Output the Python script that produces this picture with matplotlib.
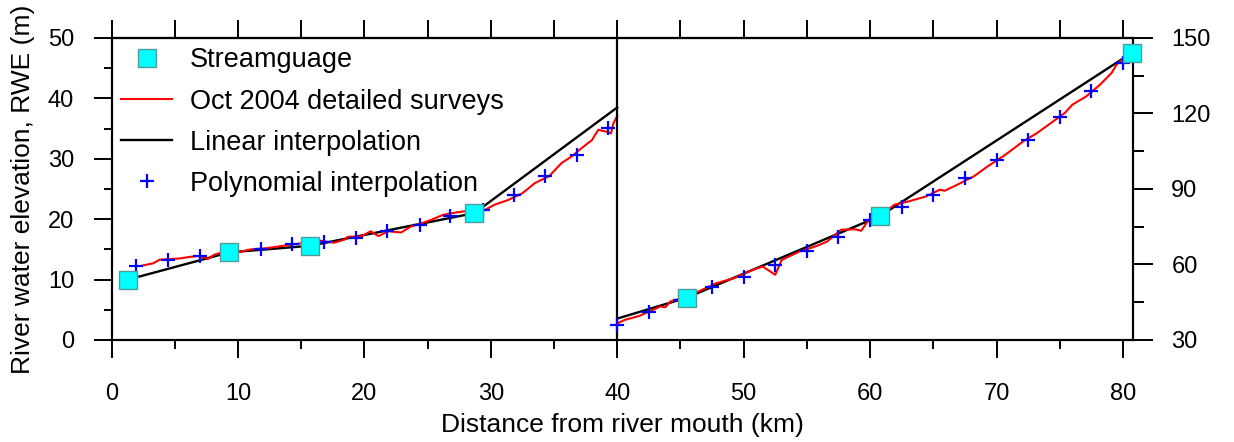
import matplotlib
matplotlib.use('Agg')
import matplotlib.pyplot as plt
from matplotlib.ticker import MultipleLocator
import numpy as np

plt.rcParams['font.family'] = ['Liberation Sans', 'DejaVu Sans']

# stream gauges (km from mouth, river water elevation m)
gauge_km = [1.3, 9.3, 15.7, 28.7, 45.5, 60.8, 80.7]
gauge_m = [10.0, 14.5, 15.6, 21.0, 46.8, 79.3, 144.1]

# linear interpolation between gauges
lin_km = [2.2, 9.3, 15.7, 28.7, 40.0, 45.5, 60.8, 80.7]
lin_m = [10.5, 14.5, 15.6, 21.0, 38.5, 46.8, 79.3, 144.1]

# polynomial interpolation points
poly_km = [1.9, 4.5, 7.0, 9.4, 11.8, 14.3, 16.8, 19.3, 21.8, 24.4, 26.8, 29.4,
           31.8, 34.3, 36.8, 39.3, 40.0, 42.5, 45.0, 47.5, 50.0, 52.5, 55.0,
           57.5, 60.0, 62.5, 65.0, 67.5, 70.0, 72.5, 75.0, 77.5, 80.0]
poly_m = [12.2, 13.3, 13.9, 14.6, 15.0, 15.9, 16.3, 16.9, 18.0, 19.1, 20.6, 21.5,
          24.0, 27.2, 30.7, 35.1, 36.0, 41.3, 46.0, 51.2, 55.2, 59.8, 65.5,
          70.8, 77.5, 82.8, 87.7, 94.3, 101.6, 109.6, 118.6, 128.8, 140.1]

# Oct 2004 detailed surveys, lower reach (0-40 km)
survey_km_low = [2.4, 3.3, 3.8, 4.6, 5.4, 6.0, 6.8, 7.3, 7.6, 8.1, 8.6, 10.2,
                 11.0, 12.3, 13.9, 15.0, 16.3, 17.6, 18.4, 18.7, 19.7, 20.5,
                 21.1, 21.9, 22.9, 23.7, 24.5, 25.3, 26.2, 27.2, 27.9, 28.7,
                 29.5, 30.3, 31.4, 32.5, 33.5, 34.6, 35.6, 36.4, 37.2, 38.0,
                 38.5, 39.1, 39.5, 39.7, 40.0]
survey_m_low = [12.3, 12.7, 13.3, 13.4, 13.5, 13.7, 13.9, 13.7, 13.4, 14.1, 14.4, 14.6,
                15.0, 15.2, 15.7, 16.0, 16.5, 16.1, 16.6, 17.1, 17.1, 18.0,
                17.2, 18.0, 17.8, 18.8, 19.3, 19.9, 20.7, 21.1, 21.3, 21.4,
                21.5, 22.4, 23.2, 24.3, 26.0, 27.1, 29.3, 30.4, 31.8, 33.1,
                34.8, 34.5, 34.2, 35.9, 37.1]

# Oct 2004 detailed surveys, upper reach (40-80 km)
survey_km_up = [40.0, 40.6, 41.7, 42.8, 43.4, 43.8, 44.2, 45.5, 46.4, 47.8, 49.2,
                50.6, 51.5, 52.5, 53.0, 54.4, 55.8, 56.6, 57.7, 58.8, 59.3, 59.8,
                60.8, 61.9, 63.0, 64.4, 65.5, 65.9, 66.9, 68.2, 69.3, 70.7, 72.1,
                73.2, 74.3, 75.4, 76.0, 77.1, 78.2, 79.1, 79.5, 80.0]
survey_m_up = [36.6, 38.0, 39.5, 41.9, 43.3, 43.0, 45.3, 47.2, 49.2, 52.5, 54.5,
               57.6, 59.2, 55.9, 61.8, 65.1, 67.4, 69.1, 73.8, 74.0, 73.4, 77.1,
               79.1, 83.7, 85.0, 87.0, 89.7, 89.3, 91.7, 95.0, 99.0, 103.6, 108.9,
               112.2, 116.2, 120.2, 123.5, 126.8, 131.5, 136.1, 139.4, 141.7]

split_km = 40

gauge_km = np.array(gauge_km)
gauge_m = np.array(gauge_m)
lin_km = np.array(lin_km)
lin_m = np.array(lin_m)
poly_km = np.array(poly_km)
poly_m = np.array(poly_m)

fig = plt.figure(figsize=(12.34, 4.42), dpi=100)
ax = fig.add_axes([0.0904, 0.2308, 0.8278, 0.6833])
ax2 = ax.twinx()

sq = dict(marker='s', ms=13.5, mfc='#00ffff', mec='#4f9c9c', mew=1.0,
          ls='none', clip_on=False, zorder=6)
cross = dict(marker='+', ms=10, mew=1.6, color='#0000ff', ls='none', zorder=5)
red_lw = 1.5
black_lw = 1.7

# lower reach on left axis
low = lin_km <= split_km
ax.plot(lin_km[low], lin_m[low], color='black', lw=black_lw, zorder=2)
ax.plot(survey_km_low, survey_m_low, color='#ff0000', lw=red_lw, zorder=3)
low = poly_km < split_km
ax.plot(poly_km[low], poly_m[low], **cross)
low = gauge_km < split_km
ax.plot(gauge_km[low], gauge_m[low], **sq)

# upper reach on right axis
up = lin_km >= split_km
ax2.plot(lin_km[up], lin_m[up], color='black', lw=black_lw, zorder=2)
ax2.plot(survey_km_up, survey_m_up, color='#ff0000', lw=red_lw, zorder=3)
up = poly_km >= split_km
ax2.plot(poly_km[up], poly_m[up], **cross)
up = gauge_km > split_km
ax2.plot(gauge_km[up], gauge_m[up], **sq)

ax.axvline(split_km, color='black', lw=1.6, zorder=4)

ax.set_xlim(0, 80.8)
ax.set_ylim(0, 50)
ax2.set_ylim(30, 150)

ax.xaxis.set_major_locator(MultipleLocator(10))
ax.xaxis.set_minor_locator(MultipleLocator(5))
ax.yaxis.set_major_locator(MultipleLocator(10))
ax.yaxis.set_minor_locator(MultipleLocator(5))
ax2.yaxis.set_major_locator(MultipleLocator(30))
ax2.yaxis.set_minor_locator(MultipleLocator(15))

ax.tick_params(axis='x', which='major', direction='out', length=13, width=1.4,
               labelsize=17, pad=18)
ax.tick_params(axis='x', which='minor', direction='out', length=6.5, width=1.4)
ax.tick_params(axis='y', which='major', direction='out', length=13, width=1.4,
               labelsize=17, pad=14)
ax.tick_params(axis='y', which='minor', direction='out', length=6, width=1.4)
ax2.tick_params(axis='y', which='major', direction='out', length=14.5, width=1.4,
                labelsize=17, pad=13)
ax2.tick_params(axis='y', which='minor', direction='out', length=8, width=1.4)

top = ax.secondary_xaxis('top')
top.set_xticks(np.arange(0, 81, 5))
top.tick_params(direction='out', length=13, width=1.4, labeltop=False)

for a in (ax, ax2):
    for s in a.spines.values():
        s.set_linewidth(1.5)
top.spines['top'].set_linewidth(1.5)

ax.set_xlabel('Distance from river mouth (km)', fontsize=19, labelpad=6)
ax.set_ylabel('River water elevation, RWE (m)', fontsize=19, labelpad=9)

handles = [
    plt.Line2D([], [], marker='s', ms=13.5, mfc='#00ffff', mec='#4f9c9c', mew=1.0, ls='none'),
    plt.Line2D([], [], color='#ff0000', lw=red_lw),
    plt.Line2D([], [], color='black', lw=black_lw),
    plt.Line2D([], [], marker='+', ms=10, mew=1.6, color='#0000ff', ls='none'),
]
labels = ['Streamguage', 'Oct 2004 detailed surveys', 'Linear interpolation',
          'Polynomial interpolation']
ax2.legend(handles, labels, loc='upper left', bbox_to_anchor=(0, 1),
           frameon=False, fontsize=19.5, handlelength=1.9, handletextpad=0.65,
           labelspacing=0.56, borderaxespad=0.2, borderpad=0.15)

fig.savefig('out.png', dpi=100)
